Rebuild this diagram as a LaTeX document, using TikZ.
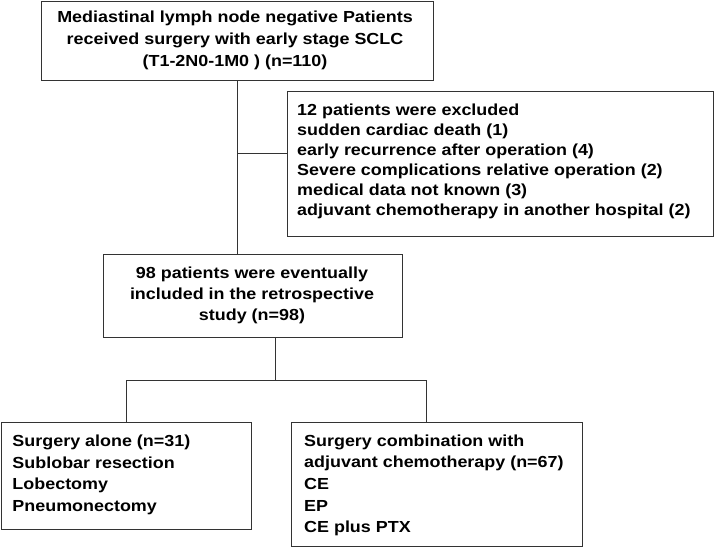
\documentclass[tikz,border=0pt]{standalone}
\usepackage{fontspec}
\setmainfont{Liberation Sans}[FakeStretch=1.12]
\usetikzlibrary{calc}
\newcommand\boxtext[3]{{\fontsize{16}{#1}\selectfont\begin{tabular}[t]{@{}#2@{}}#3\end{tabular}}}
\tikzset{
  fbox/.style={draw=black!80, line width=0.9pt, inner sep=0pt, anchor=north west, fill=white},
  conn/.style={draw=black!80, line width=0.9pt},
  txt/.style={inner sep=0pt, font=\bfseries, text=black}
}
\begin{document}
\begin{tikzpicture}[x=1pt,y=-1pt]
\useasboundingbox[fill=white] (0,0) rectangle (714,547);
% boxes
\node[fbox, minimum width=392pt, minimum height=79pt] (top) at (41,1) {};
\node[fbox, minimum width=426pt, minimum height=144.5pt] (excl) at (287,91) {};
\node[fbox, minimum width=299pt, minimum height=83pt] (mid) at (103,254) {};
\node[fbox, minimum width=250pt, minimum height=107pt] (left) at (1,422) {};
\node[fbox, minimum width=291pt, minimum height=124pt] (right) at (291,422) {};
% texts
\node[txt, anchor=base] (ttop) at (235,22.5) {\boxtext{22}{c}{Mediastinal lymph node negative Patients\\ received surgery with early stage SCLC\\ (T1-2N0-1M0 ) (n=110)}};
\node[txt, anchor=base west] (texcl) at (297,115.7) {\boxtext{20}{l}{12 patients were excluded\\ sudden cardiac death (1)\\ early recurrence after operation (4)\\ Severe complications relative operation (2)\\ medical data not known (3)\\ adjuvant chemotherapy in another hospital (2)}};
\node[txt, anchor=base] (tmid) at (252,278.3) {\boxtext{21}{c}{98 patients were eventually\\ included in the retrospective\\ study (n=98)}};
\node[txt, anchor=base west] (tleft) at (12.3,446.7) {\boxtext{21.5}{l}{Surgery alone (n=31)\\ Sublobar resection\\ Lobectomy\\ Pneumonectomy}};
\node[txt, anchor=base west] (tright) at (304,446) {\boxtext{21.7}{l}{Surgery combination with\\ adjuvant chemotherapy (n=67)\\ CE\\ EP\\ CE plus PTX}};
% connectors
\draw[conn] (top.south) -- (top.south |- mid.north);
\coordinate (ex) at ($(excl.north west)!0.43!(excl.south west)$);
\draw[conn] (ex) -- (ex -| top.south);
\coordinate (split) at ($(mid.south)+(22.5,0)$);
\coordinate (jL) at (126,380);
\coordinate (jR) at (426,380);
\draw[conn] (split) -- (split |- jL);
\draw[conn] (jL) -- (jR);
\draw[conn] (jL) -- (jL |- left.north);
\draw[conn] (jR) -- (jR |- right.north);
\end{tikzpicture}
\end{document}
